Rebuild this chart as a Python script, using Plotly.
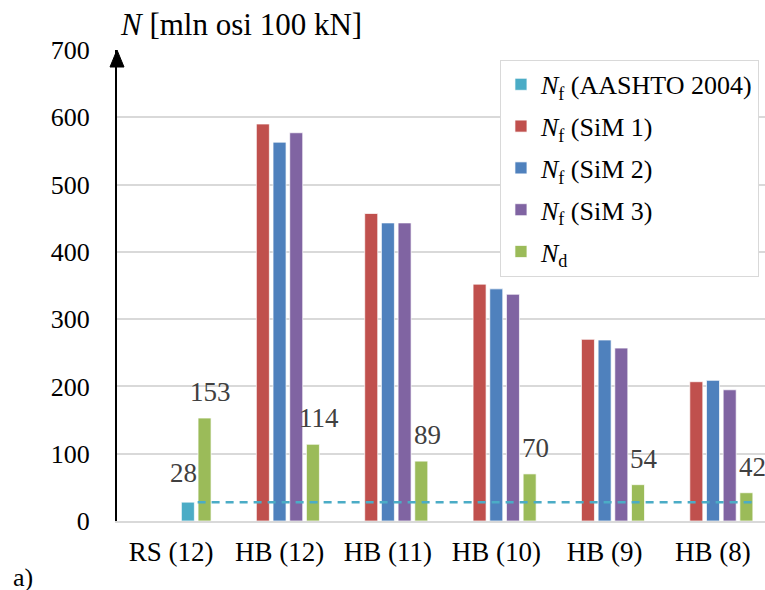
import plotly.graph_objects as go

categories = ["RS (12)", "HB (12)", "HB (11)", "HB (10)", "HB (9)", "HB (8)"]
nf_aashto = [28, None, None, None, None, None]
nf_sim1 = [None, 590, 457, 352, 270, 207]
nf_sim2 = [None, 563, 443, 345, 269, 209]
nf_sim3 = [None, 577, 443, 337, 257, 195]
n_d = [153, 114, 89, 70, 54, 42]
y_ticks = [0, 100, 200, 300, 400, 500, 600, 700]

FONT = "Liberation Serif"
PITCH = 0.154
BW = 0.12

series = [
    ("<i>N</i><sub>f</sub> (AASHTO 2004)", nf_aashto, "#4BACC6", 1),
    ("<i>N</i><sub>f</sub> (SiM 1)", nf_sim1, "#C0504D", -1),
    ("<i>N</i><sub>f</sub> (SiM 2)", nf_sim2, "#4F81BD", 0),
    ("<i>N</i><sub>f</sub> (SiM 3)", nf_sim3, "#8064A2", 1),
    ("<i>N</i><sub>d</sub>", n_d, "#9BBB59", 2),
]

fig = go.Figure()
for k, (name, vals, col, slot) in enumerate(series):
    fig.add_trace(go.Bar(
        x=categories, y=vals, name=name, marker_color=col,
        marker_line=dict(color="rgba(255,255,255,0.7)", width=1),
        width=BW, offset=slot * PITCH - BW / 2, legendgroup=str(k),
    ))

annotations = []
for i, v in enumerate(n_d):
    annotations.append(dict(x=i + 2 * PITCH, y=v, xref="x", yref="y", text=str(v),
                            showarrow=False, xanchor="center", yanchor="bottom",
                            xshift=6, yshift=9,
                            font=dict(family=FONT, size=27, color="#404040")))
annotations.append(dict(x=0 + PITCH, y=nf_aashto[0], xref="x", yref="y", text=str(nf_aashto[0]),
                        showarrow=False, xanchor="center", yanchor="bottom",
                        xshift=-4.5, yshift=12,
                        font=dict(family=FONT, size=27, color="#404040")))
annotations.append(dict(x=0, y=1, xref="paper", yref="paper", text="<i>N</i> [mln osi 100 kN]",
                        showarrow=False, xanchor="left", yanchor="bottom", xshift=1, yshift=6,
                        font=dict(family=FONT, size=31, color="black")))
annotations.append(dict(x=-0.1636, y=-0.119, xref="paper", yref="paper", text="a)",
                        showarrow=False, xanchor="left", yanchor="middle",
                        font=dict(family=FONT, size=26, color="black")))

shapes = [
    dict(type="line", xref="x", yref="y", x0=0 + PITCH + BW / 2 + 0.03, x1=5 + 2 * PITCH + BW / 2,
         y0=nf_aashto[0], y1=nf_aashto[0], layer="above",
         line=dict(color="#4BACC6", width=2.5, dash="8px,6px")),
    dict(type="path", xref="paper", yref="y", xsizemode="pixel", ysizemode="pixel",
         xanchor=0, yanchor=700, path="M-7,-17 L7,-17 L0,0 Z",
         fillcolor="black", line=dict(color="black", width=1), layer="above"),
]

fig.update_layout(
    width=765, height=590,
    margin=dict(l=117, r=0, t=50, b=69, autoexpand=False),
    paper_bgcolor="white", plot_bgcolor="white",
    barmode="overlay",
    font=dict(family=FONT, size=25, color="black"),
    showlegend=True,
    legend=dict(x=0.591, y=0.979, xanchor="left", yanchor="top",
                bgcolor="white", bordercolor="#D9D9D9", borderwidth=1,
                font=dict(family=FONT, size=26, color="black"),
                tracegroupgap=5, traceorder="grouped"),
    annotations=annotations,
    shapes=shapes,
    xaxis=dict(type="category", range=[-0.5, 5.48], showgrid=False, automargin=False,
               showline=True, linecolor="#D9D9D9", linewidth=2,
               ticks="outside", ticklen=6, tickcolor="rgba(0,0,0,0)",
               tickfont=dict(family=FONT, size=27, color="black")),
    yaxis=dict(range=[0, 700], tickvals=y_ticks, showgrid=True, gridcolor="#D9D9D9", gridwidth=1.5,
               automargin=False,
               zeroline=False, showline=True, linecolor="black", linewidth=2,
               ticks="outside", ticklen=20, tickcolor="rgba(0,0,0,0)",
               tickfont=dict(family=FONT, size=26, color="black")),
)

fig.write_html("out.html", config={"displayModeBar": False},
               post_script="document.body.style.margin='0';document.body.style.overflow='hidden';")
